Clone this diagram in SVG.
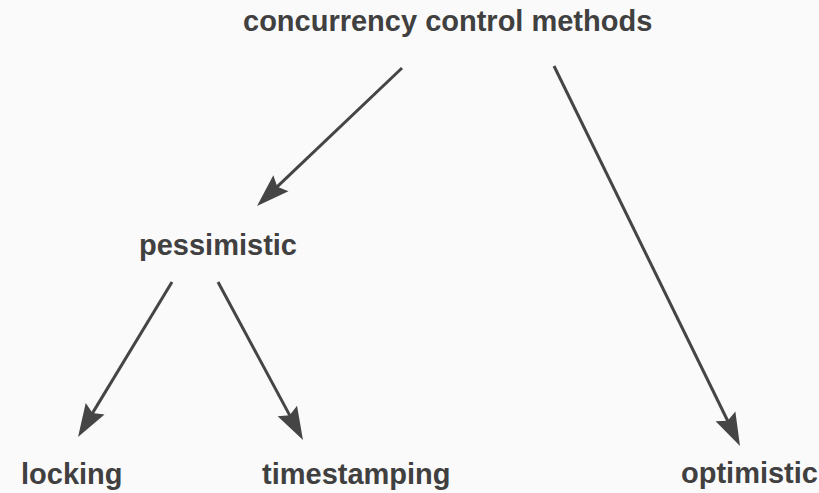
<svg xmlns="http://www.w3.org/2000/svg" width="819" height="493" viewBox="0 0 819 493">
<style>
.lbl{font-family:"Liberation Sans",Arial,sans-serif;font-weight:bold;font-size:29px;fill:#404040}
.edge{stroke:#454545;stroke-width:3;fill:none;marker-end:url(#ah)}
</style>
<defs>
<marker id="ah" markerUnits="userSpaceOnUse" viewBox="-14 -14 38 28" markerWidth="38" markerHeight="28" refX="0" refY="0" orient="auto" overflow="visible">
<path d="M20,0 L-13,-11 L-8,0 L-13,11 Z" fill="#454545"/>
</marker>
</defs>
<rect width="819" height="493" fill="#fafafa"/>
<g id="connectors">
<line class="edge" x1="402" y1="68" x2="271.5" y2="192.2"/>
<line class="edge" x1="554" y1="66" x2="731.2" y2="428"/>
<line class="edge" x1="172" y1="282" x2="88.4" y2="419.9"/>
<line class="edge" x1="218" y1="282" x2="293.5" y2="422.4"/>
</g>
<g id="n-root"><text class="lbl" x="243" y="31">concurrency control methods</text></g>
<g id="n-pessimistic"><text class="lbl" x="139" y="255">pessimistic</text></g>
<g id="n-locking"><text class="lbl" x="21" y="484">locking</text></g>
<g id="n-timestamping"><text class="lbl" x="262" y="484">timestamping</text></g>
<g id="n-optimistic"><text class="lbl" x="681" y="483">optimistic</text></g>
</svg>
